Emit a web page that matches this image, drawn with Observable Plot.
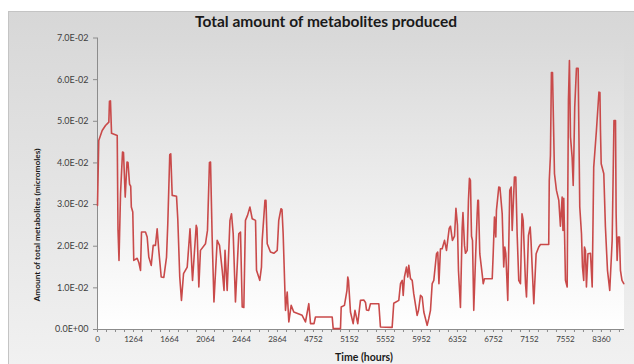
<!DOCTYPE html>
<html>
<head>
<meta charset="utf-8">
<script src="https://cdn.jsdelivr.net/npm/d3@7"></script>
<script src="https://cdn.jsdelivr.net/npm/@observablehq/plot@0.6"></script>
<style>
  html, body { margin: 0; padding: 0; background: #ffffff; }
  #wrap { position: relative; width: 634px; height: 364px; overflow: hidden; font-family: Lato, "Open Sans", sans-serif; }
  #chartArea { position: absolute; left: 8px; top: 11px; width: 640px; height: 380px; border: 1px solid #c4c4c4;
    background: linear-gradient(to bottom, #d7d7d7 0%, #f3f3f3 100%); }
  #plotArea { position: absolute; left: 97px; top: 37.5px; width: 527px; height: 291.5px;
    background: linear-gradient(to bottom, #d9d9d9 0%, #ffffff 100%); }
  #plot { position: absolute; left: 0; top: 0; }
  #title { position: absolute; left: 0; width: 652px; top: 12px; text-align: center; font-weight: bold; font-size: 15.5px; color: #1a1a1a; }
  #ytitle { position: absolute; left: 37px; top: 225px; transform: translate(-50%, -50%) rotate(-90deg); white-space: nowrap;
    font-weight: bold; font-size: 8.3px; color: #1a1a1a; }
  #xtitle { position: absolute; left: 364px; top: 357px; transform: translate(-50%, -50%); white-space: nowrap;
    font-weight: bold; font-size: 10.5px; color: #1a1a1a; line-height: 12px; }
</style>
</head>
<body>
<div id="wrap">
  <div id="chartArea"></div>
  <div id="plotArea"></div>
  <div id="plot"></div>
  <div id="title">Total amount of metabolites produced</div>
  <div id="ytitle">Amount of total metabolites (micromoles)</div>
  <div id="xtitle">Time (hours)</div>
</div>
<script>
// Time position (axis units: 400 per labelled interval) and total metabolites (micromoles)
const time = [0,14,52,89,126,133,144,156,219,228,239,256,278,289,308,328,339,356,369,376,392,403,441,459,478,489,533,552,570,597,619,644,663,681,708,737,767,781,803,814,830,878,892,914,933,956,997,1028,1050,1056,1097,1106,1126,1144,1200,1222,1244,1256,1274,1294,1330,1356,1386,1406,1417,1441,1472,1489,1508,1533,1570,1589,1608,1626,1644,1667,1694,1719,1756,1767,1803,1822,1830,1861,1872,1886,1922,1959,1997,2014,2039,2050,2063,2089,2108,2126,2152,2181,2274,2311,2348,2367,2406,2422,2608,2619,2700,2708,2744,2772,2781,2789,2811,2841,2861,2892,2922,2959,2978,2989,3014,3033,3126,3144,3274,3292,3348,3367,3386,3397,3411,3433,3448,3459,3478,3497,3514,3552,3567,3589,3608,3626,3663,3681,3700,3719,3737,3767,3781,3794,3811,3830,3856,3878,3908,3922,3944,3967,3983,4000,4011,4033,4052,4061,4078,4089,4108,4122,4133,4144,4156,4167,4181,4200,4219,4226,4233,4248,4274,4286,4300,4386,4397,4411,4426,4433,4459,4472,4497,4514,4526,4537,4559,4581,4597,4608,4633,4648,4663,4681,4700,4717,4730,4756,4767,4789,4808,4817,4848,4874,4903,4922,5014,5020,5033,5044,5056,5078,5100,5126,5144,5163,5172,5181,5189,5200,5219,5233,5244,5256,5274,5286,5294,5303,5322,5341,5359,5378,5389,5403,5411,5422,5433,5450,5478,5497,5514,5544,5572,5583,5589,5597,5626,5644,5667,5692,5719,5739,5756,5763,5774,5786,5800,5811,5828,5848];
const amount = [0.0298,0.0454,0.0478,0.0490,0.0498,0.0548,0.0549,0.0471,0.0466,0.0238,0.0166,0.0327,0.0426,0.0425,0.0318,0.0402,0.0401,0.0349,0.0344,0.0294,0.0282,0.0166,0.0171,0.0161,0.0142,0.0234,0.0234,0.0222,0.0174,0.0154,0.0202,0.0202,0.0242,0.0190,0.0126,0.0125,0.0174,0.0254,0.0420,0.0422,0.0322,0.0320,0.0266,0.0126,0.0070,0.0134,0.0150,0.0242,0.0142,0.0118,0.0250,0.0243,0.0102,0.0190,0.0206,0.0238,0.0401,0.0402,0.0222,0.0066,0.0214,0.0202,0.0142,0.0094,0.0190,0.0094,0.0262,0.0278,0.0230,0.0066,0.0230,0.0234,0.0054,0.0053,0.0262,0.0274,0.0294,0.0266,0.0262,0.0142,0.0118,0.0150,0.0214,0.0310,0.0310,0.0206,0.0186,0.0183,0.0190,0.0262,0.0290,0.0288,0.0230,0.0046,0.0090,0.0018,0.0058,0.0042,0.0034,0.0018,0.0062,0.0014,0.0014,0.0030,0.0030,0.0002,0.0002,0.0054,0.0058,0.0094,0.0126,0.0118,0.0042,0.0014,0.0046,0.0014,0.0070,0.0071,0.0065,0.0047,0.0046,0.0062,0.0062,0.0006,0.0005,0.0063,0.0070,0.0110,0.0118,0.0082,0.0126,0.0150,0.0126,0.0154,0.0122,0.0118,0.0086,0.0034,0.0046,0.0082,0.0078,0.0042,0.0010,0.0026,0.0046,0.0110,0.0118,0.0182,0.0186,0.0110,0.0194,0.0194,0.0214,0.0190,0.0243,0.0248,0.0214,0.0224,0.0291,0.0250,0.0142,0.0053,0.0243,0.0281,0.0202,0.0183,0.0190,0.0310,0.0363,0.0358,0.0224,0.0214,0.0046,0.0166,0.0278,0.0310,0.0310,0.0182,0.0134,0.0110,0.0122,0.0122,0.0182,0.0270,0.0222,0.0286,0.0342,0.0341,0.0278,0.0150,0.0198,0.0183,0.0070,0.0334,0.0342,0.0238,0.0366,0.0366,0.0230,0.0118,0.0110,0.0278,0.0262,0.0110,0.0078,0.0226,0.0246,0.0214,0.0062,0.0182,0.0198,0.0204,0.0204,0.0358,0.0418,0.0617,0.0617,0.0374,0.0334,0.0310,0.0248,0.0318,0.0238,0.0315,0.0238,0.0118,0.0102,0.0550,0.0646,0.0462,0.0414,0.0346,0.0430,0.0534,0.0627,0.0627,0.0294,0.0230,0.0150,0.0118,0.0198,0.0190,0.0102,0.0182,0.0183,0.0102,0.0390,0.0478,0.0570,0.0569,0.0478,0.0398,0.0374,0.0246,0.0142,0.0094,0.0214,0.0502,0.0502,0.0278,0.0166,0.0222,0.0222,0.0142,0.0118,0.0110];

const xTickPositions = [0,400,800,1200,1600,2000,2400,2800,3200,3600,4000,4400,4800,5200,5600];
const xTickLabels = ["0","1264","1664","2064","2464","2864","4752","5152","5552","5952","6352","6752","7152","7552","8360"];
const yTicks = [0,0.01,0.02,0.03,0.04,0.05,0.06,0.07];
const yTickLabels = ["0.0E+00","1.0E-02","2.0E-02","3.0E-02","4.0E-02","5.0E-02","6.0E-02","7.0E-02"];

const data = time.map((t, i) => ({t, v: amount[i]}));
const minorTicks = d3.range(0, 5857, 100);

const chart = Plot.plot({
  width: 634,
  height: 364,
  marginLeft: 97,
  marginRight: 10,
  marginTop: 37.5,
  marginBottom: 35,
  style: {background: "transparent", fontFamily: "Lato, 'Open Sans', sans-serif", overflow: "visible"},
  x: {domain: [0, 5856], axis: null, label: null},
  y: {domain: [0, 0.07], axis: null, label: null},
  marks: [
    Plot.axisX({ticks: minorTicks, tickSize: 3, tickFormat: () => "", label: null, stroke: "#8c8c8c", strokeOpacity: 1}),
    Plot.axisX({ticks: xTickPositions, tickSize: 3, tickPadding: 4, fontSize: 8, label: null,
      tickFormat: (d) => xTickLabels[xTickPositions.indexOf(d)], stroke: "#8c8c8c", strokeOpacity: 1, fill: "#404040"}),
    Plot.axisY({ticks: yTicks, tickSize: 4, tickPadding: 5, fontSize: 9, label: null,
      tickFormat: (d) => yTickLabels[yTicks.indexOf(d)], stroke: "#8c8c8c", strokeOpacity: 1, fill: "#404040"}),
    Plot.ruleX([0], {stroke: "#8c8c8c"}),
    Plot.ruleY([0], {stroke: "#8c8c8c"}),
    Plot.line(data, {x: "t", y: "v", stroke: "#c94a4a", strokeWidth: 1.6, curve: "linear"})
  ]
});
document.getElementById("plot").appendChild(chart);
</script>
</body>
</html>
